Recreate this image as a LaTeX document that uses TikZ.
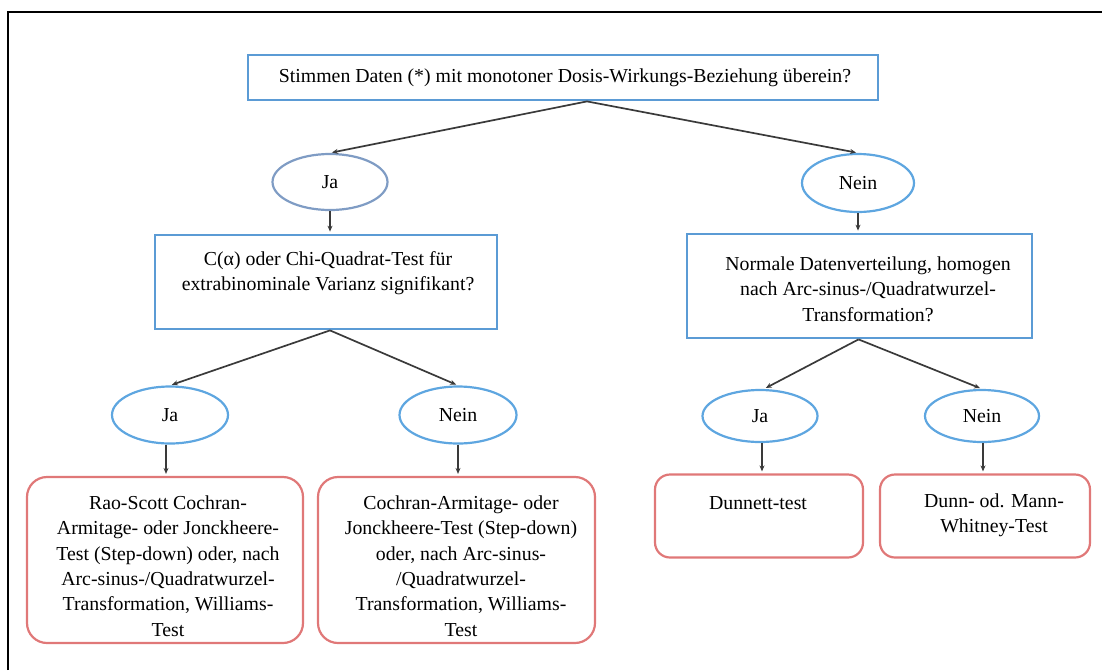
\documentclass[tikz,border=0pt]{standalone}
\usepackage{fontspec}
\setmainfont{Liberation Serif}
\usetikzlibrary{shapes.geometric,arrows.meta}
\definecolor{boxblue}{HTML}{5B9BD5}
\definecolor{ellgray}{HTML}{7F9CC4}
\definecolor{ellblue}{HTML}{5EA6E0}
\definecolor{boxred}{HTML}{E07878}
\definecolor{arrgray}{HTML}{3A3A3A}
\tikzset{
  qbox/.style={draw=boxblue, line width=2.8pt, rectangle, fill=white, inner sep=0pt},
  ellnode/.style={ellipse, draw=ellblue, line width=2.2pt, inner sep=0pt, font=\fs},
  rbox/.style={draw=boxred, line width=2.2pt, rectangle, rounded corners=20pt, inner sep=0pt},
  txt/.style={align=center, font=\fs, inner sep=0pt},
  arr/.style={draw=arrgray, line width=1.7pt, -{Stealth[length=6pt,width=5pt]}, shorten >=2pt},
}
\newcommand{\fs}{\fontsize{19.8pt}{25.3pt}\selectfont}
\begin{document}
\begin{tikzpicture}[x=1pt, y=-1pt]
\useasboundingbox (0,0) rectangle (1102,670);
\draw[line width=2.6pt] (8,670) -- (8,12) -- (1102,12);

% question boxes
\node[qbox, minimum width=630pt, minimum height=45pt] (top) at (563,77.5) {};
\node[txt] (ttop) at (565,78) {Stimmen Daten (*) mit monotoner Dosis-Wirkungs-Beziehung überein?};

\node[qbox, minimum width=342pt, minimum height=94pt] (cq) at (326,282) {};
\node[txt] (tcq) at (328,273) {C(α) oder Chi-Quadrat-Test für\\extrabinominale Varianz signifikant?};

\node[qbox, minimum width=345pt, minimum height=104pt] (nq) at (859.5,286) {};
\node[txt] (tnq) at (868,289) {Normale Datenverteilung, homogen\\nach Arc-sinus-/Quadratwurzel-\\Transformation?};

% ellipses
\node[ellnode, draw=ellgray, minimum width=115pt, minimum height=56pt] (ja1) at (330,182) {Ja};
\node[ellnode, minimum width=112pt, minimum height=58pt] (nein1) at (858,183) {Nein};
\node[ellnode, minimum width=116pt, minimum height=57pt] (ja2) at (170,415) {Ja};
\node[ellnode, minimum width=117pt, minimum height=57pt] (nein2) at (458,415) {Nein};
\node[ellnode, minimum width=115pt, minimum height=52pt] (ja3) at (760,416) {Ja};
\node[ellnode, minimum width=114pt, minimum height=52pt] (nein3) at (982,416) {Nein};

% result boxes
\node[rbox, minimum width=276pt, minimum height=166pt] (rs) at (165,560) {};
\node[txt] (trs) at (168,566) {Rao-Scott Cochran-\\Armitage- oder Jonckheere-\\Test (Step-down) oder, nach\\Arc-sinus-/Quadratwurzel-\\Transformation, Williams-\\Test};

\node[rbox, minimum width=277pt, minimum height=166pt] (ca) at (456.5,560) {};
\node[txt] (tca) at (461,566) {Cochran-Armitage- oder\\Jonckheere-Test (Step-down)\\oder, nach Arc-sinus-\\/Quadratwurzel-\\Transformation, Williams-\\Test};

\node[rbox, rounded corners=15pt, minimum width=208pt, minimum height=83pt] (dun) at (759,516) {};
\node[txt] (tdun) at (758,503) {Dunnett-test};

\node[rbox, rounded corners=15pt, minimum width=210pt, minimum height=83pt] (dm) at (985,516) {};
\node[txt] (tdm) at (994,515.5) {Dunn- od. Mann-\\Whitney-Test};

% connectors
\draw[arr] ([xshift=24pt]top.south) -- (ja1.north);
\draw[arr] ([xshift=24pt]top.south) -- (nein1.north);
\draw[arr] (ja1.south) -- (cq.north -| ja1.south);
\draw[arr] (nein1.south) -- (nq.north -| nein1.south);
\draw[arr] ([xshift=4pt]cq.south) -- (ja2.north);
\draw[arr] ([xshift=4pt]cq.south) -- (nein2.north);
\draw[arr] ([xshift=-1pt]nq.south) -- ([xshift=4pt]ja3.north);
\draw[arr] ([xshift=-1pt]nq.south) -- (nein3.north);
\draw[arr] ([xshift=-4pt]ja2.south) -- ([xshift=-4pt]ja2.south |- rs.north);
\draw[arr] (nein2.south) -- (nein2.south |- ca.north);
\draw[arr] ([xshift=2pt]ja3.south) -- ([xshift=2pt]ja3.south |- dun.north);
\draw[arr] ([xshift=1pt]nein3.south) -- ([xshift=1pt]nein3.south |- dm.north);
\end{tikzpicture}
\end{document}
